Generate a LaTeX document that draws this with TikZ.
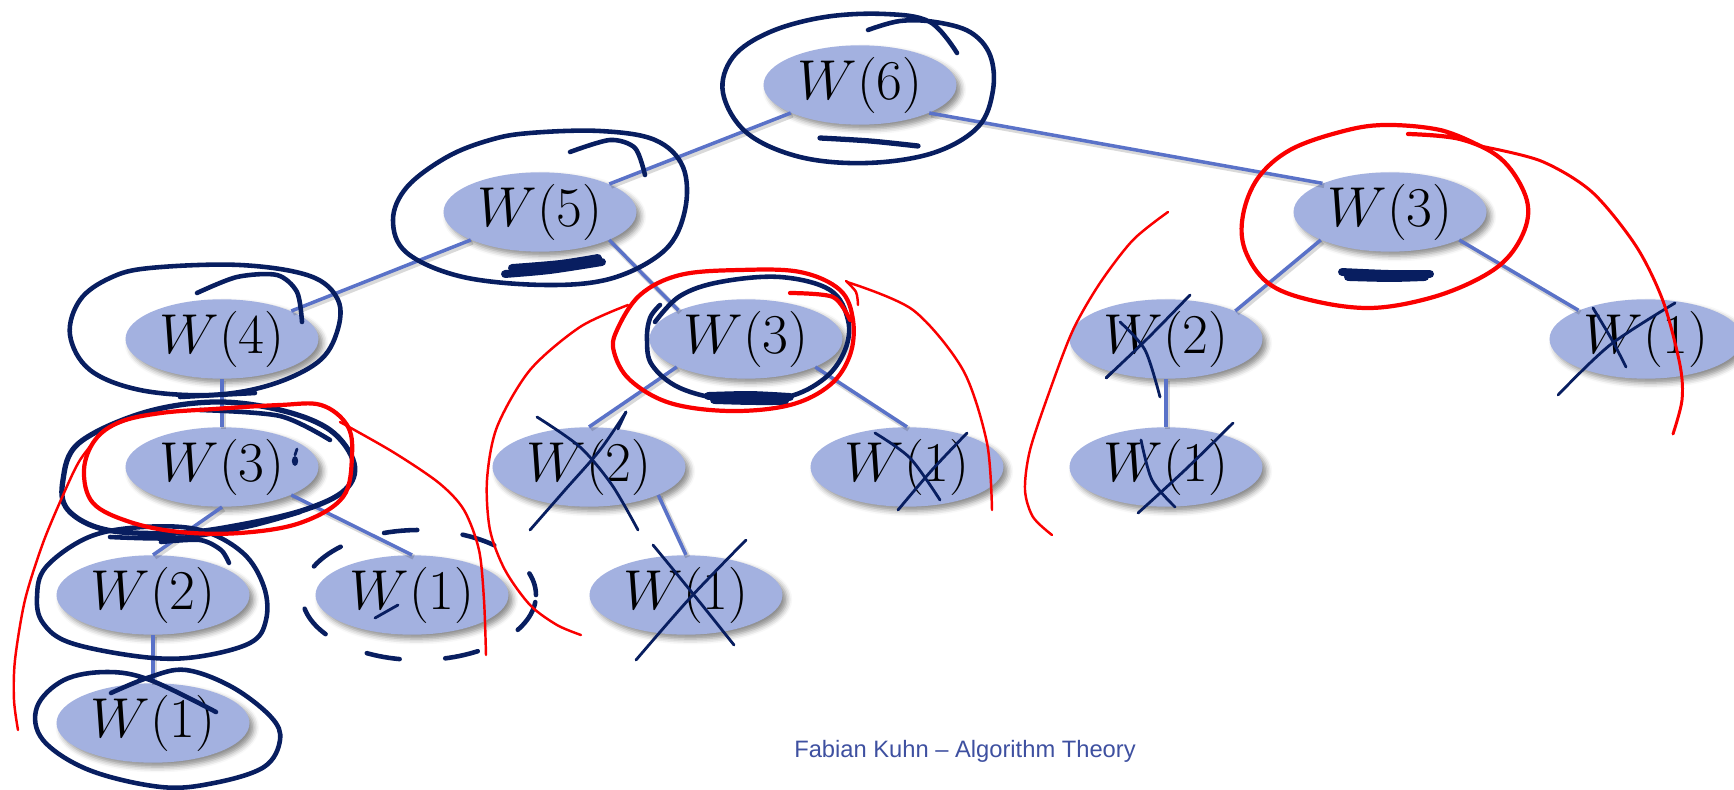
\RequirePackage{fix-cm}
\documentclass[tikz,border=0pt]{standalone}
\usepackage{fontspec}
\newfontfamily\footfont{Liberation Sans}
\usetikzlibrary{shapes.geometric,shadows.blur}
\definecolor{nodefill}{RGB}{163,177,224}
\definecolor{edgec}{RGB}{90,114,200}
\definecolor{navyc}{RGB}{8,30,96}
\definecolor{redc}{RGB}{250,0,0}
\definecolor{footc}{RGB}{62,80,160}
\tikzset{
  wnode/.style={ellipse, fill=nodefill, minimum width=3.86cm, minimum height=1.58cm,
    inner sep=0pt, font=\fontsize{32}{34}\selectfont,
    blur shadow={shadow xshift=2.5pt, shadow yshift=-2.5pt, shadow blur radius=3pt, shadow opacity=45}},
  edge/.style={draw=edgec, line width=2pt,
    preaction={draw=black, opacity=0.15, line width=3pt, transform canvas={shift={(1pt,-1.2pt)}}}},
  navyloop/.style={draw=navyc, line width=2.6pt, line cap=round, line join=round},
  navythin/.style={draw=navyc, line width=1.6pt, line cap=round, line join=round},
  navyblob/.style={draw=navyc, line width=4.5pt, line cap=round, line join=round},
  redloop/.style={draw=redc, line width=2.4pt, line cap=round, line join=round},
  redthin/.style={draw=redc, line width=1.4pt, line cap=round, line join=round},
}
\begin{document}
\begin{tikzpicture}[x=0.02cm, y=-0.02cm]
\useasboundingbox (0,0) rectangle (1734,790);
% ---------- tree nodes ----------
\node[wnode] (W6)   at (860,85)   {$W(6)$};
\node[wnode] (W5)   at (540,212)  {$W(5)$};
\node[wnode] (W3R)  at (1390,212) {$W(3)$};
\node[wnode] (W4)   at (222,339)  {$W(4)$};
\node[wnode] (W3M)  at (746,339)  {$W(3)$};
\node[wnode] (W2R)  at (1166,339) {$W(2)$};
\node[wnode] (W1FR) at (1646,339) {$W(1)$};
\node[wnode] (W3L)  at (222,467)  {$W(3)$};
\node[wnode] (W2M)  at (589,467)  {$W(2)$};
\node[wnode] (W1M)  at (907,467)  {$W(1)$};
\node[wnode] (W1R)  at (1166,467) {$W(1)$};
\node[wnode] (W2L)  at (153,595)  {$W(2)$};
\node[wnode] (W1LL) at (412,595)  {$W(1)$};
\node[wnode] (W1MM) at (686,595)  {$W(1)$};
\node[wnode] (W1B)  at (153,723)  {$W(1)$};
% ---------- edges ----------
\draw[edge] (W6.202.4) -- (W5.22.4);
\draw[edge] (W6.-22.4) -- (W3R.157.6);
\draw[edge] (W5.202.4) -- (W4.22.4);
\draw[edge] (W5.-22.4) -- (W3M.157.6);
\draw[edge] (W3R.202.4) -- (W2R.22.4);
\draw[edge] (W3R.-22.4) -- (W1FR.157.6);
\draw[edge] (W4.south) -- (W3L.north);
\draw[edge] (W3L.south) -- (W2L.north);
\draw[edge] (W3L.-22.4) -- (W1LL.north);
\draw[edge] (W3M.202.4) -- (W2M.north);
\draw[edge] (W3M.-22.4) -- (W1M.north);
\draw[edge] (W2M.-22.4) -- (W1MM.north);
\draw[edge] (W2R.south) -- (W1R.north);
\draw[edge] (W2L.south) -- (W1B.north);
% ---------- footer ----------
\node[font=\footfont\fontsize{13.5}{15}\selectfont, text=footc] (foot) at (965,751) {Fabian Kuhn – Algorithm Theory};
% ---------- navy annotations ----------
% W6
\draw[navyloop] plot[smooth, tension=0.6] coordinates {(868,30) (900,21) (935,22) (970,32) (990,55) (993,90) (978,127) (933,153) (867,163) (800,157) (747,133) (723,93) (733,57) (770,32) (825,17) (885,14) (930,22) (957,53)};
\draw[navyloop, line width=3pt] plot[smooth] coordinates {(820,138) (870,141) (918,146)};
% W5
\draw[navyloop] plot[smooth cycle, tension=0.6] coordinates {(530,133) (600,131) (655,140) (683,167) (685,210) (665,250) (613,278) (547,285) (463,277) (407,253) (393,220) (407,187) (447,157) (490,140)};
\draw[navyloop] plot[smooth] coordinates {(570,152) (610,140) (635,148) (645,175)};
\draw[navyblob] plot[smooth] coordinates {(505,274) (550,270) (602,262)};
\draw[navyblob] plot[smooth] coordinates {(512,268) (560,264) (598,258)};
% W4
\draw[navyloop] plot[smooth cycle, tension=0.6] coordinates {(150,268) (240,265) (310,276) (338,300) (337,332) (318,362) (270,385) (210,395) (140,390) (90,370) (70,335) (80,300) (110,278)};
\draw[navyloop] plot[smooth] coordinates {(197,293) (237,277) (277,275) (297,292) (302,322)};
\draw[navyloop] (180,397) -- (255,393);
% W3 left
\draw[navyloop, line width=3pt] plot[smooth cycle, tension=0.6] coordinates {(143,413) (214,402) (280,410) (330,430) (354,463) (345,490) (304,510) (240,525) (179,533) (107,530) (68,510) (63,480) (79,443)};
\draw[navyloop] plot[smooth] coordinates {(200,410) (280,416) (330,440)};
\draw[navyloop] plot[smooth] coordinates {(110,537) (180,538) (250,526) (300,512)};
\fill[navyc] (295,461) ellipse [x radius=1.8pt, y radius=2.8pt];
\draw[navythin] (295,455) -- (297,449);
% W2 left
\draw[navyloop] plot[smooth cycle, tension=0.6] coordinates {(46,567) (89,537) (143,527) (200,530) (243,553) (264,587) (266,620) (250,643) (196,657) (143,657) (71,643) (43,623) (37,597)};
\draw[navyloop] plot[smooth] coordinates {(161,542) (200,540) (221,550) (229,563)};
% W1 bottom
\draw[navyloop] plot[smooth, tension=0.6] coordinates {(111,693) (150,677) (186,670) (232,687) (271,717) (280,740) (264,767) (214,783) (161,787) (89,770) (43,740) (37,707) (64,680) (107,672) (150,680) (216,712)};
% W1 left-second (dashed)
\draw[navyloop, dash pattern=on 19pt off 26pt, dash phase=6pt] (419,595) ellipse [x radius=2.34cm, y radius=1.3cm];
\draw[navythin] (375,618) -- (398,605);
% W3 middle
\draw[navyloop] plot[smooth, tension=0.6] coordinates {(655,322) (680,296) (720,282) (780,277) (830,290) (848,320) (845,350) (825,378) (787,397) (730,400) (680,388) (652,365) (647,340) (650,318) (660,305)};
\draw[navyblob] plot[smooth] coordinates {(708,396) (750,395) (790,397)};
\draw[navyblob] plot[smooth] coordinates {(714,400) (750,401) (785,401)};
% W3 right underline
\draw[navyblob] plot[smooth] coordinates {(1342,272) (1390,274) (1430,274)};
\draw[navyblob] plot[smooth] coordinates {(1348,277) (1390,278) (1425,277)};
% crosses
\draw[navythin] plot[smooth] coordinates {(537,417) (580,447) (612,485) (638,530)};
\draw[navythin] plot[smooth] coordinates {(626,412) (600,450) (565,490) (530,530)};
\draw[navythin] (618,429) -- (626,412);
\draw[navythin] plot[smooth] coordinates {(875,433) (910,458) (940,500)};
\draw[navythin] plot[smooth] coordinates {(967,433) (932,470) (898,510)};
\draw[navythin] plot[smooth] coordinates {(653,545) (694,595) (734,645)};
\draw[navythin] plot[smooth] coordinates {(746,540) (690,598) (636,660)};
\draw[navythin] plot[smooth] coordinates {(1190,295) (1148,338) (1106,378)};
\draw[navythin] (1106,378) -- (1112,372);
\draw[navythin] plot[smooth] coordinates {(1120,322) (1145,350) (1160,397)};
\draw[navythin] plot[smooth] coordinates {(1233,423) (1185,470) (1138,513)};
\draw[navythin] plot[smooth] coordinates {(1141,440) (1152,480) (1175,507)};
\draw[navythin] plot[smooth] coordinates {(1675,303) (1610,345) (1558,395)};
\draw[navythin] plot[smooth] coordinates {(1593,308) (1612,340) (1626,367)};
% ---------- red annotations ----------
% W3 left
\draw[redloop] plot[smooth cycle, tension=0.6] coordinates {(161,413) (214,409) (280,405) (321,405) (347,425) (352,455) (343,497) (300,523) (240,533) (180,532) (130,522) (93,503) (84,470) (95,440) (120,422)};
\draw[redthin] plot[smooth] coordinates {(340,422) (393,452) (439,483) (464,510) (479,550) (484,600) (486,655)};
\draw[redthin] plot[smooth] coordinates {(102,432) (80,460) (64,493) (43,543) (25,600) (15,660) (14,700) (18,730)};
% W3 middle
\draw[redloop] plot[smooth cycle, tension=0.6] coordinates {(617,330) (640,295) (680,275) (740,270) (800,272) (840,290) (853,320) (850,355) (830,385) (790,405) (730,411) (670,403) (630,380) (614,352)};
\draw[redloop] plot[smooth] coordinates {(790,293) (833,297) (850,320)};
\draw[redthin] plot[smooth] coordinates {(628,305) (580,327) (530,370) (497,427) (487,480) (490,530) (505,570) (530,605) (557,625) (581,635)};
\draw[redthin] plot[smooth] coordinates {(847,282) (913,310) (963,370) (987,443) (992,510)};
\draw[redthin] plot[smooth] coordinates {(846,281) (856,292) (858,305)};
% W3 right
\draw[redloop] plot[smooth, tension=0.6] coordinates {(1408,134) (1460,139) (1500,158) (1524,192) (1527,222) (1510,255) (1480,278) (1430,298) (1370,308) (1310,300) (1268,283) (1245,250) (1243,215) (1258,178) (1290,150) (1340,132) (1384,125) (1440,130) (1480,146)};
\draw[redthin, line width=1.7pt] plot[smooth] coordinates {(1480,146) (1541,161) (1592,192) (1636,246) (1663,301) (1680,365) (1682,400) (1673,434)};
\draw[redthin] plot[smooth] coordinates {(1168,212) (1133,240) (1100,283) (1073,330) (1050,390) (1030,450) (1025,490) (1033,517) (1052,535)};
\end{tikzpicture}
\end{document}
